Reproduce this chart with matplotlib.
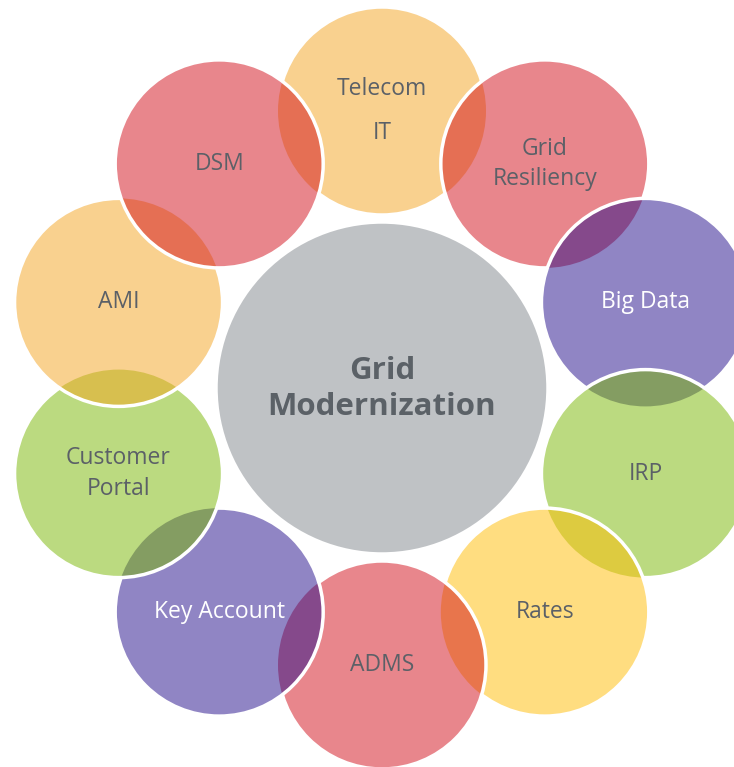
import numpy as np
import matplotlib
matplotlib.use("Agg")
import matplotlib.pyplot as plt
from matplotlib.patches import Circle
from matplotlib.colors import to_rgb

# ring items, clockwise from the top
labels = ["Telecom\nIT", "Grid\nResiliency", "Big Data", "IRP", "Rates",
          "ADMS", "Key Account", "Customer\nPortal", "AMI", "DSM"]
base_colors = ["#F3A31F", "#D10D19", "#210B89", "#77B500", "#FFBB00",
               "#D10D19", "#210B89", "#77B500", "#F3A31F", "#D10D19"]
text_colors = ["#5B6067", "#5B6067", "white", "#5B6067", "#5B6067",
               "#5B6067", "white", "#5B6067", "#5B6067", "#5B6067"]
line_spacing = [2.15, 1.35, 1.2, 1.2, 1.2, 1.2, 1.2, 1.35, 1.2, 1.2]
center_label = "Grid\nModernization"
center_color = "#BFC2C5"

ALPHA = 0.5
W, H = 734, 767
cx, cy = 382, 388      # centre of the diagram (pixels)
ring_r = 277           # distance from centre to small circles
small_r = 104
big_r = 166


def on_white(c):
    c = np.array(to_rgb(c))
    return ALPHA * c + (1 - ALPHA)


def over(top, bottom_fill):
    return ALPHA * np.array(to_rgb(top)) + (1 - ALPHA) * bottom_fill


fig = plt.figure(figsize=(W / 100, H / 100), dpi=100)
ax = fig.add_axes([0, 0, 1, 1])
ax.set_xlim(0, W)
ax.set_ylim(H, 0)
ax.axis("off")

n = len(labels)
angles = np.deg2rad(90 - 360 / n * np.arange(n))
xs = cx + ring_r * np.cos(angles)
ys = cy - ring_r * np.sin(angles)
fills = [on_white(c) for c in base_colors]

# centre circle
ax.add_patch(Circle((cx, cy), big_r, facecolor=center_color,
                    edgecolor="white", linewidth=2.5, zorder=1))
ax.text(cx, cy + 1, center_label, ha="center", va="center", fontsize=22.5,
        fontweight="bold", color="#5B6167", family="Open Sans",
        linespacing=1.3, zorder=50)

# outer circles, each one stacked above the previous
patches = []
for i in range(n):
    z = 10 + 3 * i
    p = Circle((xs[i], ys[i]), small_r, facecolor=fills[i], edgecolor="none",
               zorder=z)
    ax.add_patch(p)
    patches.append(p)
    # overlap with the circle below
    if i > 0:
        lens = Circle((xs[i], ys[i]), small_r,
                      facecolor=over(base_colors[i], fills[i - 1]),
                      edgecolor="none", zorder=z + 1)
        ax.add_patch(lens)
        lens.set_clip_path(patches[i - 1])
    ax.add_patch(Circle((xs[i], ys[i]), small_r, facecolor="none",
                        edgecolor="white", linewidth=2.5, zorder=z + 2))

# last circle also sits on top of the first one
i, j = n - 1, 0
z = 10 + 3 * i
lens = Circle((xs[i], ys[i]), small_r, facecolor=over(base_colors[i], fills[j]),
              edgecolor="none", zorder=z + 1)
ax.add_patch(lens)
lens.set_clip_path(patches[j])

for i in range(n):
    ax.text(xs[i], ys[i], labels[i], ha="center", va="center", fontsize=16.5,
            color=text_colors[i], family="Open Sans",
            linespacing=line_spacing[i], zorder=60)

fig.savefig("out.png", dpi=100)
